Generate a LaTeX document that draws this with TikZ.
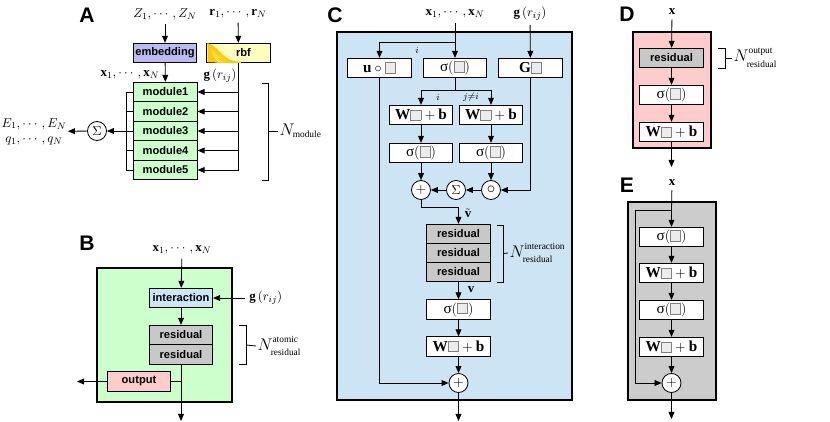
\documentclass[tikz,border=0pt]{standalone}
\usepackage{xcolor}
\usepackage{amsmath, amssymb}
\usepackage{fontspec}
\setmainfont{Liberation Serif}
\setsansfont{Liberation Sans}
\usepackage{tikz}
\usetikzlibrary{arrows.meta}

\definecolor{embedcol}{HTML}{BBBBF2}
\definecolor{rbfcol}{HTML}{FFFFC0}
\definecolor{rbfline}{HTML}{FFC800}
\definecolor{modcol}{HTML}{CCFFCC}
\definecolor{intcol}{HTML}{CCE6F7}
\definecolor{rescol}{HTML}{C8C8C8}
\definecolor{outcol}{HTML}{FFCCCC}
\definecolor{panelcol}{HTML}{CCE4F3}
\definecolor{skipcol}{HTML}{CCCCCC}

\newcommand{\slot}{{\setlength{\fboxsep}{0pt}\setlength{\fboxrule}{0.7pt}\fcolorbox{gray}{gray!15}{\rule{0pt}{8pt}\rule{8pt}{0pt}}}}
\newcommand{\sig}{\text{σ}}
\newcommand{\tinytxt}[1]{\mbox{\fontsize{8}{9}\selectfont #1}}
\newcommand{\Nrep}[2]{\fontsize{14}{16}\selectfont$N^{\raisebox{1.5pt}{\tinytxt{#1}}}_{\raisebox{-1pt}{\tinytxt{#2}}}$}

\tikzset{
    box/.style={draw, line width=0.7pt, minimum width=1.9cm, minimum height=0.585cm, inner sep=0pt,
        font=\sffamily\bfseries\fontsize{9.5}{11}\selectfont},
    mbox/.style={draw, line width=0.7pt, fill=white, minimum width=1.9cm, minimum height=0.585cm, inner sep=0pt,
        font=\fontsize{13}{14}\selectfont},
    op/.style={circle, draw, line width=0.7pt, fill=white, minimum size=0.57cm, inner sep=0pt},
    panel/.style={draw, line width=1.6pt},
    letter/.style={font=\sffamily\bfseries\fontsize{18}{20}\selectfont},
    brace/.style={line width=0.7pt},
}

\begin{document}
\begin{tikzpicture}[x=0.03cm, y=-0.03cm, line width=0.7pt, font=\fontsize{11}{13}\selectfont,
    >={Triangle[length=6pt, width=5pt]}]
    \useasboundingbox (0, 0) rectangle (830, 422);

    % A
    \node[letter] at (87, 15) (labA) {A};
    \node at (165, 14) (zin) {$Z_1,\cdots,Z_N$};
    \node at (238, 14) (rin) {$\mathbf{r}_1,\cdots,\mathbf{r}_N$};
    \node[box, fill=embedcol] at (165, 53) (emb) {embedding};
    \node[box, fill=rbfcol] at (238.5, 53) (rbf) {\hspace*{0.3cm}rbf};
    \foreach \w in {15, 35, ..., 255}
        \draw[rbfline, line width=0.5pt] plot[domain=0:33, samples=25] (207.5+\x, {62.5-18.5*exp(-\x*\x/\w)});
    \fill[rbfline] plot[domain=0:33, samples=25] (207.5+\x, {62.5-18.5*exp(-\x*\x/30)}) -- (207.5, 62.5) -- cycle;
    \foreach \i in {1, ..., 5}
        \node[box, fill=modcol] at (165.5, 72.5+19.5*\i) (mod\i) {module\i};
    \node at (130, 75) (xA) {$\mathbf{x}_1,\cdots,\mathbf{x}_N$};
    \node at (220, 76) (gA) {$\mathbf{g}\left(r_{ij}\right)$};

    \draw[->] (zin) -- (emb);
    \draw[->] (rin) -- (rbf);
    \draw[->] (emb) -- (mod1);
    \draw (rbf.south) -- (rbf.south |- mod5.east);
    \coordinate (colA) at (126, 0);
    \draw (colA |- mod1.west) -- (colA |- mod5.west);
    \foreach \i in {1, ..., 5} {
        \draw[->] (rbf.south |- mod\i.east) -- (mod\i.east);
        \draw (mod\i.west) -- (colA |- mod\i.west);
    }
    \node[op] at (97, 131) (sumA) {$\Sigma$};
    \node[align=center, inner sep=1pt] at (34, 131.5) (outA) {$E_1,\cdots,E_N$\\[0pt]$q_1,\cdots,q_N$};
    \draw[->] (colA |- mod3.west) -- (sumA);
    \draw[->] (sumA) -- (outA);

    \node[anchor=west, inner sep=1pt] at (278, 131) (nA) {\fontsize{14}{16}\selectfont$N_{\tinytxt{module}}$};
    \draw[brace] (262, 83) -- (268, 83) -- (268, 180) -- (262, 180);
    \draw[brace] (268, 131) -- (nA.west);

    % B
    \node[letter] at (87, 243) (labB) {B};
    \node at (182, 250) (xB) {$\mathbf{x}_1,\cdots,\mathbf{x}_N$};
    \filldraw[panel, fill=modcol] (97, 268) rectangle (232, 402);
    \node[box, fill=intcol] at (181, 298) (inter) {interaction};
    \node[box, fill=rescol] at (181, 335) (resB1) {residual};
    \node[box, fill=rescol] at (181, 354.5) (resB2) {residual};
    \node[box, fill=outcol] at (139, 381.5) (outp) {output};
    \node[anchor=west] at (245, 298) (gB) {$\mathbf{g}\left(r_{ij}\right)$};
    \coordinate (endB) at (181, 421);
    \coordinate (leftB) at (77, 381.5);

    \draw[->] (xB) -- (inter);
    \draw[->] (gB) -- (inter);
    \draw[->] (inter) -- (resB1);
    \draw[->] (resB2) -- (endB);
    \draw (resB2.south |- outp.east) -- (outp.east);
    \draw[->] (outp) -- (leftB);

    \node[anchor=west, inner sep=1pt] at (256, 346) (nB) {\Nrep{atomic}{residual}};
    \draw[brace] (239, 325) -- (246, 325) -- (246, 364.5) -- (239, 364.5);
    \draw[brace] (246, 345) -- (nB.west);

    % C
    \node[letter] at (335, 15) (labC) {C};
    \node at (455, 14) (xC) {$\mathbf{x}_1,\cdots,\mathbf{x}_N$};
    \node at (530, 14) (gC) {$\mathbf{g}\left(r_{ij}\right)$};
    \filldraw[panel, fill=panelcol] (337, 32) rectangle (572, 400);
    \node[mbox] at (379.5, 68) (uC) {$\mathbf{u}\circ\slot$};
    \node[mbox] at (455, 68) (sC) {\sig$\left(\slot\right)$};
    \node[mbox] at (530.5, 68) (GC) {$\mathbf{G}\slot$};
    \node[mbox] at (421, 115) (wL) {$\mathbf{W}\slot+\mathbf{b}$};
    \node[mbox] at (491, 115) (wR) {$\mathbf{W}\slot+\mathbf{b}$};
    \node[mbox] at (421, 153) (sL) {\sig$\left(\slot\right)$};
    \node[mbox] at (491, 153) (sR) {\sig$\left(\slot\right)$};
    \node[op] at (421, 190) (plusC) {\large$+$};
    \node[op] at (456, 190) (sumC) {$\Sigma$};
    \node[op] at (491, 190) (prodC) {\Large$\circ$};
    \foreach \i in {1, 2, 3}
        \node[box, fill=rescol] at (458.5, 215+19*\i) (resC\i) {residual};
    \node[mbox] at (458.5, 309.5) (sC2) {\sig$\left(\slot\right)$};
    \node[mbox] at (458.5, 346.5) (wC2) {$\mathbf{W}\slot+\mathbf{b}$};
    \node[op] at (458.5, 383) (plusC2) {\large$+$};
    \node at (417, 50) (iC) {\footnotesize$i$};
    \node at (438, 97) (iL) {\footnotesize$i$};
    \node at (471, 97) (jR) {\footnotesize$j{\neq}i$};
    \node at (468, 213) (vt) {$\tilde{\mathbf{v}}$};
    \node at (471, 290) (vv) {$\mathbf{v}$};
    \coordinate (jx) at (455, 42);
    \coordinate (jw) at (455, 90);
    \coordinate (jv) at (458.5, 207);
    \coordinate (endC) at (458.5, 421);

    \draw (xC) -- (jx);
    \draw[->] (jx) -| (uC);
    \draw[->] (jx) -- (sC);
    \draw[->] (gC) -- (GC);
    \draw (sC) -- (jw);
    \draw[->] (jw) -| (wL);
    \draw[->] (jw) -| (wR);
    \draw[->] (wL) -- (sL);
    \draw[->] (wR) -- (sR);
    \draw[->] (sL) -- (plusC);
    \draw[->] (sR) -- (prodC);
    \draw[->] (GC) |- (prodC);
    \draw[->] (prodC) -- (sumC);
    \draw[->] (sumC) -- (plusC);
    \draw (plusC) |- (jv);
    \draw[->] (jv) -- (resC1);
    \draw[->] (resC3) -- (sC2);
    \draw[->] (sC2) -- (wC2);
    \draw[->] (wC2) -- (plusC2);
    \draw[->] (uC) |- (plusC2);
    \draw[->] (plusC2) -- (endC);

    \node[anchor=west, inner sep=1pt] at (508, 253) (nC) {\Nrep{interaction}{residual}};
    \draw[brace] (497, 225) -- (503, 225) -- (503, 282) -- (497, 282);
    \draw[brace] (503, 253.5) -- (nC.west);

    % D
    \node[letter] at (627, 14) (labD) {D};
    \node at (672, 12) (xD) {$\mathbf{x}$};
    \filldraw[panel, fill=outcol] (633, 32) rectangle (711, 148);
    \node[box, fill=rescol] at (671.5, 58) (resD) {residual};
    \node[mbox] at (671.5, 95) (sD) {\sig$\left(\slot\right)$};
    \node[mbox] at (671.5, 132) (wD) {$\mathbf{W}\slot+\mathbf{b}$};
    \coordinate (endD) at (671.5, 167);

    \draw[->] (xD) -- (resD);
    \draw[->] (resD) -- (sD);
    \draw[->] (sD) -- (wD);
    \draw[->] (wD) -- (endD);

    \node[anchor=west, inner sep=1pt] at (732, 58) (nD) {\Nrep{output}{residual}};
    \draw[brace] (718, 48) -- (725, 48) -- (725, 68) -- (718, 68);
    \draw[brace] (725, 58) -- (nD.west);

    % E
    \node[letter] at (627, 185) (labE) {E};
    \node at (672, 183) (xE) {$\mathbf{x}$};
    \filldraw[panel, fill=skipcol] (628, 202) rectangle (716, 400);
    \node[mbox] at (671.5, 237) (sE1) {\sig$\left(\slot\right)$};
    \node[mbox] at (671.5, 273) (wE1) {$\mathbf{W}\slot+\mathbf{b}$};
    \node[mbox] at (671.5, 310) (sE2) {\sig$\left(\slot\right)$};
    \node[mbox] at (671.5, 347) (wE2) {$\mathbf{W}\slot+\mathbf{b}$};
    \node[op] at (671.5, 383) (plusE) {\large$+$};
    \coordinate (jE) at (671.5, 210);
    \coordinate (skipE) at (635, 210);
    \coordinate (endE) at (671.5, 419);

    \draw (xE) -- (jE);
    \draw[->] (jE) -- (sE1);
    \draw[->] (sE1) -- (wE1);
    \draw[->] (wE1) -- (sE2);
    \draw[->] (sE2) -- (wE2);
    \draw[->] (wE2) -- (plusE);
    \draw[->] (jE) -- (skipE) |- (plusE);
    \draw[->] (plusE) -- (endE);
\end{tikzpicture}
\end{document}
